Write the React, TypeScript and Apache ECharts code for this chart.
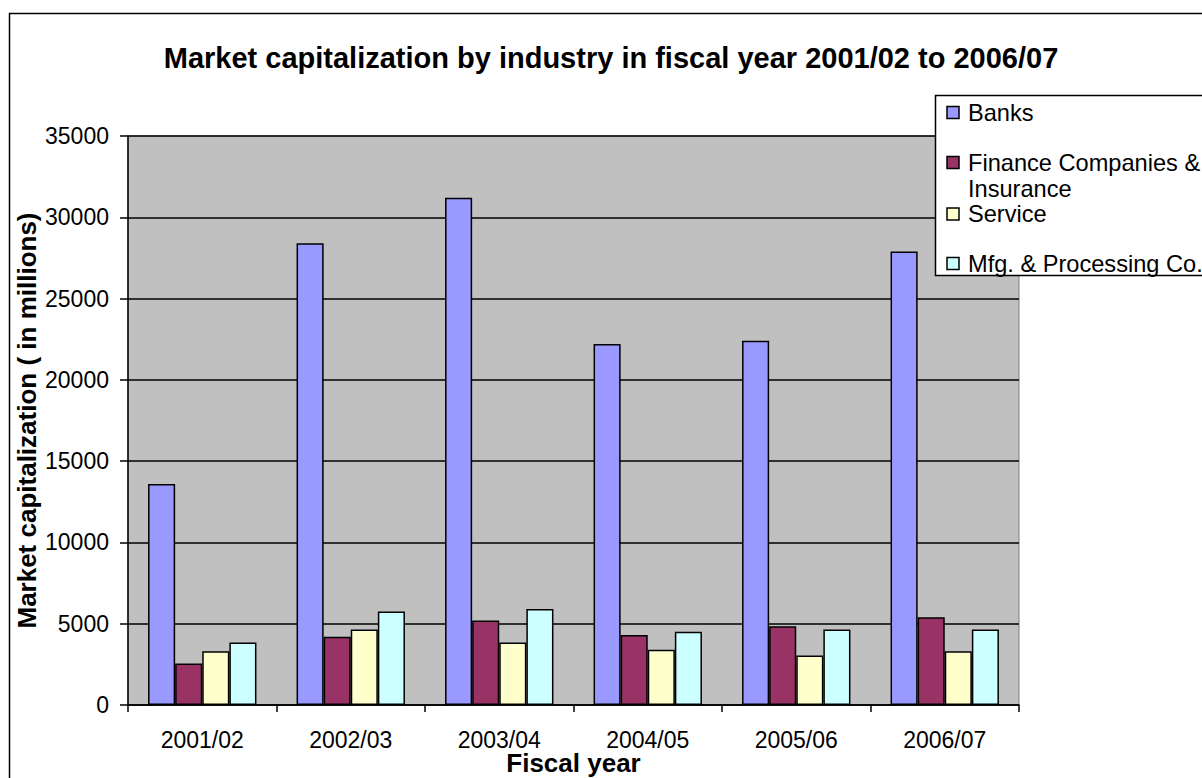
import React, { useEffect, useRef } from "react";
import * as echarts from "echarts";

const categories = ["2001/02", "2002/03", "2003/04", "2004/05", "2005/06", "2006/07"];
const seriesNames = ["Banks", "Finance Companies & Insurance", "Service", "Mfg. & Processing Co."];
const legendLines = [["Banks"], ["Finance Companies &", "Insurance"], ["Service"], ["Mfg. & Processing Co."]];
const banks = [13600, 28400, 31200, 22200, 22400, 27900];
const finance = [2550, 4200, 5200, 4300, 4850, 5400];
const service = [3300, 4650, 3850, 3400, 3050, 3300];
const mfg = [3850, 5750, 5900, 4500, 4650, 4650];
const colors = ["#9999FF", "#993366", "#FFFFCC", "#CCFFFF"];
const yTicks = { min: 0, max: 35000, interval: 5000 };

const FONT = "'Liberation Sans', Arial, sans-serif";

export default function App() {
  const ref = useRef<HTMLDivElement>(null);
  useEffect(() => {
    document.body.style.margin = "0";
    if (!ref.current) return;
    const chart = echarts.init(ref.current, undefined, { renderer: "svg" });
    const values = [banks, finance, service, mfg];

    const legendItems: any[] = [];
    const rowY = [112.5, 162.5, 214, 263.5];
    legendLines.forEach((lines, i) => {
      legendItems.push({
        type: "rect",
        z: 101,
        shape: { x: 947, y: rowY[i] - 6, width: 12, height: 12 },
        style: { fill: colors[i], stroke: "#000", lineWidth: 1.5 },
      });
      lines.forEach((ln, j) => {
        legendItems.push({
          type: "text",
          z: 101,
          x: 968,
          y: rowY[i] + j * 26,
          style: {
            text: ln,
            font: `23.6px ${FONT}`,
            fill: "#000",
            verticalAlign: "middle",
            align: "left",
          },
        });
      });
    });

    chart.setOption({
      animation: false,
      backgroundColor: "#ffffff",
      title: {
        text: "Market capitalization by industry in fiscal year 2001/02 to 2006/07",
        left: 606,
        textAlign: "center",
        top: 38,
        textStyle: { fontFamily: FONT, fontSize: 29, fontWeight: "bold", color: "#000" },
      },
      grid: {
        left: 128,
        top: 136,
        width: 891,
        height: 569,
        outerBoundsMode: "none",
        containLabel: false,
        show: true,
        backgroundColor: "#C0C0C0",
        borderColor: "#808080",
        borderWidth: 1,
      },
      xAxis: {
        type: "category",
        data: categories,
        name: "Fiscal year",
        nameLocation: "middle",
        nameGap: 45,
        nameMoveOverlap: false,
        nameTextStyle: { fontFamily: FONT, fontSize: 26, fontWeight: "bold", color: "#000" },
        axisLine: { show: true, lineStyle: { color: "#000", width: 1.5 } },
        axisTick: { show: true, length: 7, lineStyle: { color: "#000", width: 1.5 } },
        axisLabel: { margin: 23, fontFamily: FONT, fontSize: 23, color: "#000" },
        splitLine: { show: false },
      },
      yAxis: {
        type: "value",
        min: yTicks.min,
        max: yTicks.max,
        interval: yTicks.interval,
        name: "Market capitalization ( in millions)",
        nameLocation: "middle",
        nameGap: 88,
        nameMoveOverlap: false,
        nameRotate: 90,
        nameTextStyle: { fontFamily: FONT, fontSize: 26, fontWeight: "bold", color: "#000" },
        axisLine: { show: true, lineStyle: { color: "#000", width: 1.5 } },
        axisTick: { show: true, length: 8, lineStyle: { color: "#000", width: 1.5 } },
        axisLabel: {
          margin: 19,
          fontFamily: FONT,
          fontSize: 23,
          color: "#000",
          formatter: (v: number) => String(v),
        },
        splitLine: { show: true, lineStyle: { color: "#000", width: 1.5 } },
      },
      series: seriesNames.map((name, i) => ({
        name,
        type: "bar",
        data: values[i],
        barGap: "0%",
        barCategoryGap: "27%",
        itemStyle: { color: colors[i], borderColor: "#000", borderWidth: 1.5 },
      })),
      graphic: [
        {
          type: "rect",
          z: 100,
          shape: { x: 9.5, y: 13.5, width: 1400, height: 1000 },
          style: { fill: "none", stroke: "#000", lineWidth: 1.5 },
        },
        {
          type: "rect",
          z: 100,
          shape: { x: 935.5, y: 95.5, width: 400, height: 180 },
          style: { fill: "#fff", stroke: "#000", lineWidth: 1.5 },
        },
        ...legendItems,
      ],
    });
    return () => chart.dispose();
  }, []);
  return <div ref={ref} style={{ width: 1202, height: 778 }} />;
}
